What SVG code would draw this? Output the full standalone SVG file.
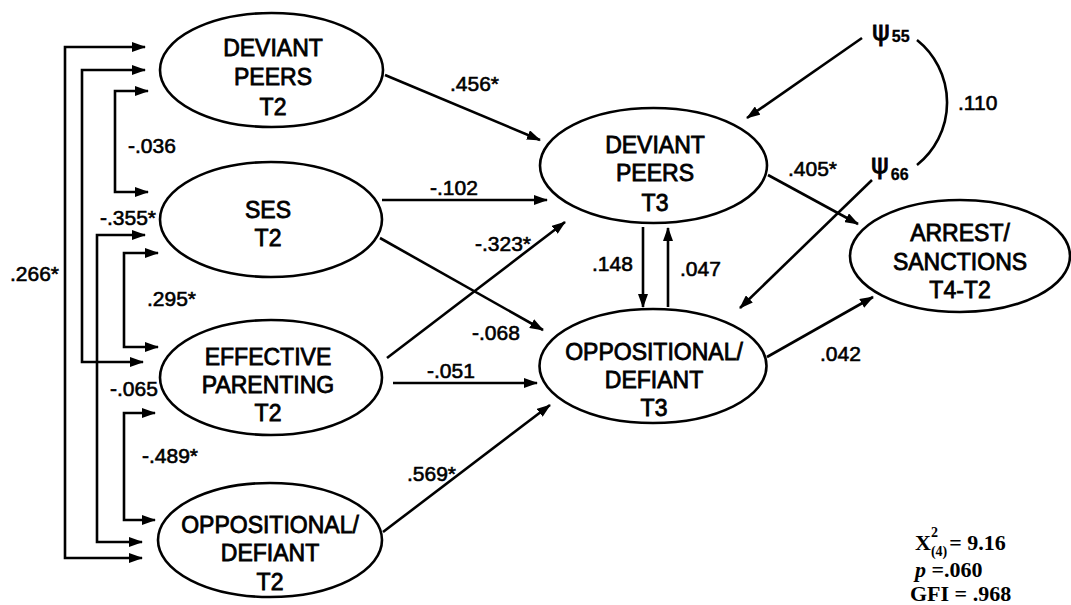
<svg xmlns="http://www.w3.org/2000/svg" width="1071" height="605" viewBox="0 0 1071 605">
<style>
.n ellipse{fill:#fff;stroke:#000;stroke-width:2.6}
.n text{font-family:"Liberation Sans",Arial,sans-serif;font-size:23px;text-anchor:middle;fill:#000;stroke:#000;stroke-width:0.8}
.c path,.c line{fill:none;stroke:#000;stroke-width:2.6}
.a{marker-end:url(#ah)}
.b{marker-start:url(#ah);marker-end:url(#ah)}
.l{font-family:"Liberation Sans",Arial,sans-serif;font-size:21px;fill:#000;stroke:#000;stroke-width:0.6}
.s{font-family:"Liberation Serif","Times New Roman",serif;font-size:22px;font-weight:bold;fill:#000}
.psi{font-family:"DejaVu Sans",sans-serif;font-size:27px;fill:#000;stroke:#000;stroke-width:0.8}
.sub{font-family:"Liberation Sans",Arial,sans-serif;font-size:16px;font-weight:bold;stroke-width:0.3}
</style>
<defs>
<marker id="ah" markerWidth="14" markerHeight="10" refX="13" refY="5" orient="auto-start-reverse" markerUnits="userSpaceOnUse"><path d="M0,0 L14,5 L0,10 z" fill="#000"/></marker>
</defs>
<rect width="1071" height="605" fill="#fff"/>
<g class="c" id="connectors">
<path class="b" d="M145,47 H65 V558 H142"/>
<path class="b" d="M145,70 H82 V362 H143"/>
<path class="b" d="M148,91 H115 V192 H148"/>
<path class="b" d="M145,235 H97 V542 H142"/>
<path class="b" d="M158,253 H124 V347 H158"/>
<path class="b" d="M155,413 H124 V520 H155"/>
<line class="a" x1="385" y1="75" x2="540" y2="140"/>
<line class="a" x1="382" y1="200" x2="547" y2="200"/>
<line class="a" x1="387" y1="358" x2="565" y2="222"/>
<line class="a" x1="380" y1="238" x2="543" y2="330"/>
<line class="a" x1="393" y1="383" x2="537" y2="383"/>
<line class="a" x1="383" y1="532" x2="550" y2="405"/>
<line class="a" x1="643" y1="227" x2="643" y2="307"/>
<line class="a" x1="668" y1="307" x2="668" y2="228"/>
<line class="a" x1="768" y1="175" x2="858" y2="224"/>
<line class="a" x1="767" y1="357" x2="873" y2="297"/>
<line class="a" x1="862" y1="38" x2="747" y2="118"/>
<line class="a" x1="872" y1="180" x2="740" y2="308"/>
<path d="M917,40 A80,80 0 0 1 917,165"/>
</g>
<g class="n" id="dp_t2"><ellipse cx="271.5" cy="70" rx="111.5" ry="57"/><text x="273" y="56">DEVIANT</text><text x="273" y="85">PEERS</text><text x="273" y="115">T2</text></g>
<g class="n" id="ses_t2"><ellipse cx="271" cy="219.5" rx="111" ry="57.5"/><text x="268" y="218">SES</text><text x="268" y="246">T2</text></g>
<g class="n" id="ep_t2"><ellipse cx="271" cy="377.5" rx="111" ry="57.5"/><text x="268" y="365">EFFECTIVE</text><text x="268" y="393">PARENTING</text><text x="268" y="421">T2</text></g>
<g class="n" id="od_t2"><ellipse cx="270" cy="540" rx="112" ry="57"/><text x="270" y="533">OPPOSITIONAL/</text><text x="270" y="561">DEFIANT</text><text x="270" y="590">T2</text></g>
<g class="n" id="dp_t3"><ellipse cx="653.5" cy="165.5" rx="113.5" ry="57.5"/><text x="655" y="153">DEVIANT</text><text x="655" y="181">PEERS</text><text x="655" y="211">T3</text></g>
<g class="n" id="od_t3"><ellipse cx="653" cy="366" rx="113.5" ry="57"/><text x="654" y="360">OPPOSITIONAL/</text><text x="654" y="388">DEFIANT</text><text x="654" y="416">T3</text></g>
<g class="n" id="arrest"><ellipse cx="960" cy="256" rx="110" ry="56"/><text x="960" y="241">ARREST/</text><text x="960" y="270">SANCTIONS</text><text x="960" y="298">T4-T2</text></g>
<g id="psi55"><text class="psi" x="872" y="40">ψ<tspan class="sub" dx="2" dy="2">55</tspan></text></g>
<g id="psi66"><text class="psi" x="871" y="173">ψ<tspan class="sub" dx="2" dy="7">66</tspan></text></g>
<g id="labels">
<text class="l" x="10" y="281">.266*</text>
<text class="l" x="100" y="225">-.355*</text>
<text class="l" x="128" y="153">-.036</text>
<text class="l" x="147" y="306">.295*</text>
<text class="l" x="110" y="396">-.065</text>
<text class="l" x="142" y="463">-.489*</text>
<text class="l" x="450" y="91">.456*</text>
<text class="l" x="430" y="195">-.102</text>
<text class="l" x="475" y="251">-.323*</text>
<text class="l" x="472" y="340">-.068</text>
<text class="l" x="427" y="378">-.051</text>
<text class="l" x="407" y="481">.569*</text>
<text class="l" x="592" y="271">.148</text>
<text class="l" x="680" y="276">.047</text>
<text class="l" x="788" y="176">.405*</text>
<text class="l" x="820" y="361">.042</text>
<text class="l" x="958" y="110">.110</text>
</g>
<g id="stats">
<text class="s" x="915" y="550">X<tspan font-size="14" dy="-13">2</tspan><tspan font-size="14" dx="-7" dy="19">(4)</tspan><tspan dx="2" dy="-6">= 9.16</tspan></text>
<text class="s" x="915" y="577"><tspan font-style="italic">p</tspan> =.060</text>
<text class="s" x="910" y="601">GFI = .968</text>
</g>
</svg>
